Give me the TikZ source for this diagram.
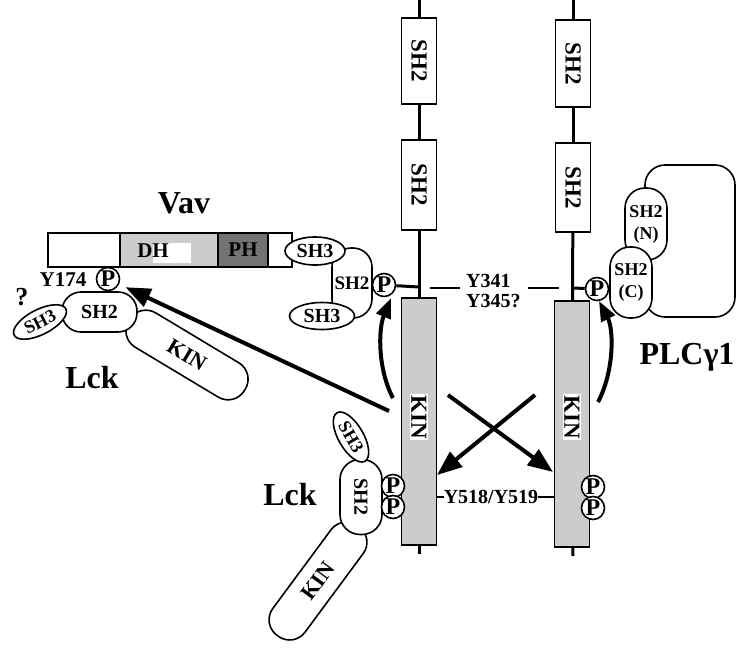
\documentclass[tikz,border=0pt]{standalone}
\usepackage{fontspec}
\setmainfont{Liberation Serif}
\usetikzlibrary{arrows.meta,shapes.geometric}
\begin{document}
\begin{tikzpicture}[x=1pt,y=-1pt,
  lbl/.style={font=\fontsize{20}{20}\selectfont\bfseries, inner sep=0pt},
  big/.style={font=\fontsize{32}{32}\selectfont\bfseries, inner sep=0pt},
  dom/.style={draw, line width=1.6pt, fill=white, inner sep=0pt, font=\fontsize{20}{20}\selectfont\bfseries},
  sbox/.style={dom, rotate=-90, minimum width=#1, minimum height=35pt, font=\fontsize{23}{23}\selectfont\bfseries},
  kinbox/.style={draw, line width=1.6pt, fill=black!20, rotate=-90, minimum width=#1, minimum height=35pt, inner sep=0pt},
  kinlbl/.style={fill=white, rotate=-90, inner sep=1.5pt, font=\fontsize{23}{23}\selectfont\bfseries},
  vavseg/.style={draw, line width=1.6pt, minimum height=34pt, inner sep=0pt, font=\fontsize{21}{21}\selectfont\bfseries},
  pc/.style={circle, draw, line width=1.6pt, fill=white, minimum size=23pt, inner sep=0pt, font=\fontsize{24}{24}\selectfont\bfseries},
  chain/.style={line width=3pt},
  thinl/.style={line width=1.8pt},
  bigarrow/.style={line width=4pt, -{Triangle[length=25pt,width=19pt]}},
  carrow/.style={line width=4pt, -{Triangle[length=20pt,width=15pt]}}
]
\useasboundingbox (0,0) rectangle (737,648);

% ---------- left chain ----------
\coordinate (Ltop) at (419,0);
\coordinate (Lbot) at (419,554);
\coordinate (Lj) at (419,287);
\node[sbox=86pt] (LSH2a) at (419,61) {SH2};
\node[sbox=90pt] (LSH2b) at (419,185) {SH2};
\node[kinbox=247pt] (LKIN) at (419,421.5) {};
\node[kinlbl] (LKINt) at (419,417) {KIN};
\draw[chain] (Ltop) -- (LSH2a);
\draw[chain] (LSH2a) -- (LSH2b);
\draw[chain] (LSH2b) -- (LKIN);
\draw[chain] (LKIN) -- (Lbot);

% ---------- right chain ----------
\coordinate (Rtop) at (573,0);
\coordinate (Rbot) at (573,556);
\coordinate (Rj) at (573,288);
\node[sbox=87pt] (RSH2a) at (573,63.5) {SH2};
\node[sbox=89pt] (RSH2b) at (573,187.5) {SH2};
\node[kinbox=246pt] (RKIN) at (572,424) {};
\node[kinlbl] (RKINt) at (572,417) {KIN};
\draw[chain] (Rtop) -- (RSH2a);
\draw[chain] (RSH2a) -- (RSH2b);
\draw[chain] (RSH2b) -- (RKIN);
\draw[chain] (RKIN) -- (Rbot);

% ---------- Y341 / Y345? ----------
\node[lbl, align=left, anchor=west] (Ylab) at (466,291) {Y341\\Y345?};
\coordinate (d1a) at (430,288); \coordinate (d1b) at (460,288);
\coordinate (d2a) at (528,288); \coordinate (d2b) at (559,288);
\draw[thinl] (d1a) -- (d1b);
\draw[thinl] (d2a) -- (d2b);

% ---------- Y518/Y519 ----------
\node[lbl] (Ylab2) at (491,497) {Y518/Y519};
\coordinate (s1) at (436,497); \coordinate (s2) at (554,497);
\draw[thinl] (s1) -- (Ylab2.west);
\draw[thinl] (Ylab2.east) -- (s2);

% ---------- Vav ----------
\node[vavseg, fill=white, minimum width=72pt] (VavA) at (84,250) {};
\node[vavseg, fill=black!20, minimum width=98pt] (VavDH) at (169,250) {};
\node[fill=white, minimum width=38pt, minimum height=20pt, inner sep=0pt] (DHpatch) at (172,253) {};
\node[lbl, font=\fontsize{21}{21}\selectfont\bfseries] (DHt) at (153,251) {DH};
\node[vavseg, fill=black!55, minimum width=50pt] (VavPH) at (243,250) {PH};
\node[vavseg, fill=white, minimum width=24pt] (VavD) at (280,250) {};
\node[big] (Vavl) at (184,203) {Vav};

% Vav adapter
\node[dom, minimum width=40pt, minimum height=70pt, rounded corners=19pt, font=\fontsize{19}{19}\selectfont\bfseries] (VSH2) at (352,283) {SH2};
\node[dom, ellipse, minimum width=60pt, minimum height=28pt] (VSH3a) at (315,251) {SH3};
\node[dom, ellipse, minimum width=65pt, minimum height=27pt] (VSH3b) at (322,316) {SH3};
\node[pc] (VP) at (384,285) {P};
\draw[chain] (VP) -- (Lj);

% ---------- upper Lck ----------
\node[dom, rotate=-31, minimum width=135pt, minimum height=40pt, rounded corners=19pt, font=\fontsize{22}{22}\selectfont\bfseries] (UKIN) at (187,355) {KIN};
\node[dom, minimum width=75pt, minimum height=40pt, rounded corners=19pt] (USH2) at (99.5,312) {SH2};
\node[dom, ellipse, rotate=27, minimum width=58pt, minimum height=25pt, font=\fontsize{18}{18}\selectfont\bfseries] (USH3) at (40,322) {SH3};
\node[pc] (YP) at (108,279) {P};
\node[lbl, font=\fontsize{21}{21}\selectfont\bfseries] (Y174) at (63,280) {Y174};
\node[lbl, font=\fontsize{26}{26}\selectfont\bfseries] (q) at (22,297) {?};
\node[big] (Lck1) at (92,378) {Lck};

% ---------- lower Lck ----------
\node[dom, rotate=53.5, minimum width=136pt, minimum height=40pt, rounded corners=19pt, font=\fontsize{22}{22}\selectfont\bfseries] (LoKIN) at (318,581) {KIN};
\node[dom, rotate=-90, minimum width=75pt, minimum height=42pt, rounded corners=20pt] (LoSH2) at (361,497) {SH2};
\node[dom, ellipse, rotate=-60, minimum width=56pt, minimum height=25pt, font=\fontsize{18}{18}\selectfont\bfseries] (LoSH3) at (351,437) {SH3};
\node[pc] (LP1) at (393,486) {P};
\node[pc] (LP2) at (393,507) {P};
\node[big] (Lck2) at (290,495) {Lck};

% right KIN P's
\node[pc] (RP1) at (593,487) {P};
\node[pc] (RP2) at (593,508) {P};

% ---------- PLCgamma1 ----------
\node[draw, line width=1.6pt, fill=white, minimum width=90pt, minimum height=152pt, rounded corners=20pt] (PLCb) at (690,241) {};
\node[dom, minimum width=42pt, minimum height=72pt, rounded corners=20pt, align=center, font=\fontsize{18}{22}\selectfont\bfseries] (PN) at (646,224) {SH2\\(N)};
\node[dom, minimum width=42pt, minimum height=71pt, rounded corners=20pt, align=center, font=\fontsize{18}{22}\selectfont\bfseries] (PCc) at (631,282.5) {SH2\\(C)};
\node[pc] (RP) at (597,289) {P};
\draw[chain] (Rj) -- (RP);
\node[big] (PLCl) at (687,357) {PLCγ1};

% ---------- arrows ----------
\coordinate (a1s) at (389,411);
\draw[bigarrow, shorten >=7pt] (a1s) -- (YP);
\coordinate (x1s) at (448,395); \coordinate (x1e) at (553,472);
\coordinate (x2s) at (535,395); \coordinate (x2e) at (437,475);
\draw[bigarrow] (x1s) -- (x1e);
\draw[bigarrow] (x2s) -- (x2e);
\coordinate (c1s) at (393,398); \coordinate (c1e) at (391,298);
\draw[carrow] (c1s) .. controls (378,370) and (378,330) .. (c1e);
\coordinate (c2s) at (598,402); \coordinate (c2e) at (599,301);
\draw[carrow] (c2s) .. controls (614,372) and (614,330) .. (c2e);
\end{tikzpicture}
\end{document}
